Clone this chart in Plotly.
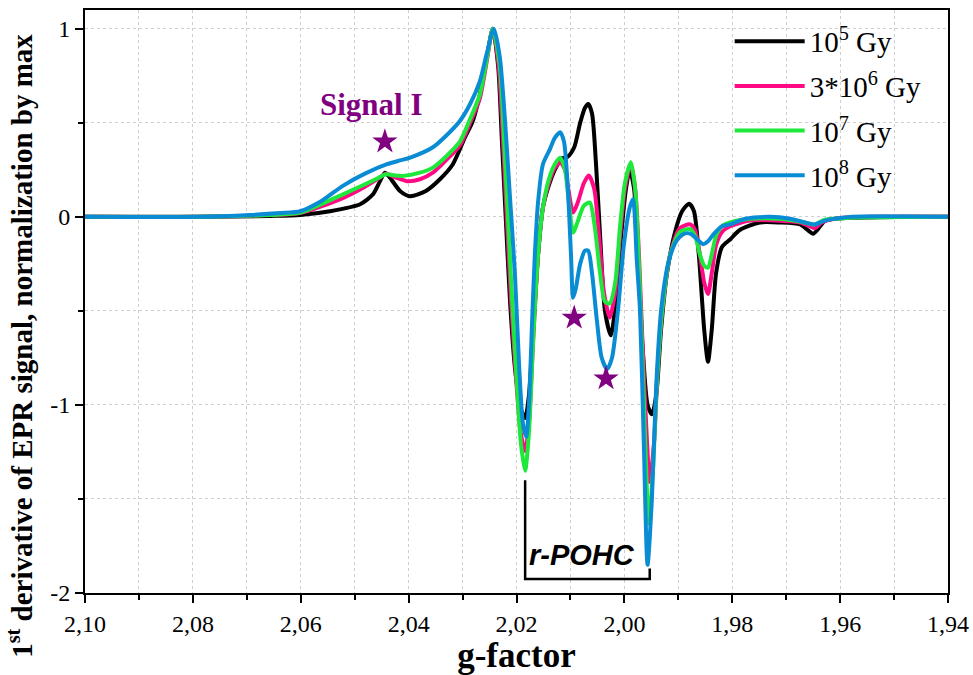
import plotly.graph_objects as go

# ---------------- data ----------------
series_names = ["10<sup>5</sup> Gy", "3*10<sup>6</sup> Gy", "10<sup>7</sup> Gy", "10<sup>8</sup> Gy"]

g_1e5 = [2.1000, 2.0787, 2.0657, 2.0601, 2.0546, 2.0490, 2.0466, 2.0453, 2.0444, 2.0435, 2.0416, 2.0397, 2.0368,
         2.0342, 2.0318, 2.0296, 2.0281, 2.0268, 2.0255, 2.0244, 2.0234, 2.0227, 2.0220, 2.0212, 2.0203, 2.0192,
         2.0184, 2.0177, 2.0169, 2.0160, 2.0151, 2.0142, 2.0129, 2.0116, 2.0105, 2.0093, 2.0082, 2.0073, 2.0067,
         2.0060, 2.0053, 2.0045, 2.0036, 2.0025, 2.0016, 2.0006, 1.9997, 1.9990, 1.9982, 1.9975, 1.9966, 1.9957,
         1.9949, 1.9941, 1.9932, 1.9921, 1.9906, 1.9893, 1.9880, 1.9871, 1.9862, 1.9852, 1.9845, 1.9838, 1.9830,
         1.9819, 1.9804, 1.9786, 1.9749, 1.9712, 1.9674, 1.9660, 1.9650, 1.9641, 1.9628, 1.9582, 1.9489, 1.9400]
y_1e5 = [0, 0, 0.005, 0.01, 0.03, 0.067, 0.12, 0.19, 0.235, 0.21, 0.138, 0.11, 0.138, 0.2, 0.28, 0.42, 0.51, 0.65,
         0.85, 1.0, 0.8, 0.4, 0.0, -0.45, -0.8, -1.02, -1.07, -0.95, -0.6, -0.2, 0.05, 0.15, 0.25, 0.31, 0.32, 0.37,
         0.5, 0.58, 0.60, 0.55, 0.3, -0.1, -0.5, -0.63, -0.45, -0.1, 0.15, 0.25, 0.15, -0.2, -0.7, -1.0, -1.05, -0.95,
         -0.6, -0.3, -0.08, 0.03, 0.07, 0.03, -0.2, -0.6, -0.77, -0.6, -0.3, -0.16, -0.12, -0.07, -0.03, -0.03, -0.04,
         -0.07, -0.09, -0.065, -0.02, -0.005, 0, 0]

g_3e6 = [2.1000, 2.0787, 2.0657, 2.0601, 2.0522, 2.0481, 2.0453, 2.0442, 2.0425, 2.0403, 2.0379, 2.0355, 2.0331,
         2.0305, 2.0286, 2.0268, 2.0255, 2.0244, 2.0233, 2.0225, 2.0218, 2.0210, 2.0201, 2.0192, 2.0184, 2.0177,
         2.0169, 2.0160, 2.0151, 2.0140, 2.0129, 2.0119, 2.0110, 2.0103, 2.0095, 2.0086, 2.0075, 2.0066, 2.0056,
         2.0047, 2.0038, 2.0027, 2.0017, 2.0008, 1.9999, 1.9988, 1.9980, 1.9973, 1.9966, 1.9958, 1.9953, 1.9945,
         1.9938, 1.9928, 1.9915, 1.9897, 1.9878, 1.9869, 1.9860, 1.9852, 1.9845, 1.9838, 1.9830, 1.9819, 1.9804,
         1.9767, 1.9712, 1.9674, 1.9656, 1.9647, 1.9634, 1.9610, 1.9545, 1.9400]
y_3e6 = [0, 0, 0.01, 0.02, 0.10, 0.16, 0.21, 0.23, 0.21, 0.19, 0.2, 0.235, 0.3, 0.38, 0.5, 0.63, 0.83, 1.0, 0.8, 0.4,
         0.0, -0.45, -0.85, -1.15, -1.245, -1.1, -0.65, -0.2, 0.05, 0.18, 0.26, 0.29, 0.25, 0.13, 0.023, 0.08, 0.18,
         0.22, 0.15, -0.1, -0.4, -0.535, -0.4, -0.1, 0.15, 0.28, 0.15, -0.2, -0.7, -1.2, -1.41, -1.2, -0.8, -0.45,
         -0.2, -0.06, -0.04, -0.07, -0.2, -0.35, -0.41, -0.3, -0.15, -0.08, -0.05, -0.02, -0.02, -0.03, -0.05, -0.06,
         -0.03, -0.01, 0, 0]

g_1e7 = [2.1000, 2.0787, 2.0657, 2.0601, 2.0522, 2.0461, 2.0442, 2.0425, 2.0410, 2.0379, 2.0355, 2.0331, 2.0305,
         2.0286, 2.0268, 2.0255, 2.0244, 2.0231, 2.0223, 2.0216, 2.0208, 2.0199, 2.0192, 2.0184, 2.0177, 2.0169,
         2.0160, 2.0151, 2.0140, 2.0129, 2.0119, 2.0110, 2.0103, 2.0095, 2.0086, 2.0075, 2.0064, 2.0055, 2.0045,
         2.0036, 2.0027, 2.0017, 2.0008, 1.9999, 1.9988, 1.9980, 1.9973, 1.9966, 1.9960, 1.9955, 1.9947, 1.9940,
         1.9930, 1.9915, 1.9897, 1.9878, 1.9869, 1.9860, 1.9852, 1.9845, 1.9838, 1.9830, 1.9819, 1.9804, 1.9767,
         1.9712, 1.9674, 1.9647, 1.9628, 1.9582, 1.9400]
y_1e7 = [0, 0, 0.01, 0.023, 0.12, 0.2, 0.227, 0.22, 0.218, 0.235, 0.262, 0.32, 0.40, 0.52, 0.65, 0.84, 1.0, 0.8, 0.4,
         0.0, -0.45, -0.9, -1.2, -1.35, -1.15, -0.65, -0.2, 0.05, 0.2, 0.28, 0.315, 0.25, 0.08, -0.083, -0.02, 0.06,
         0.076, -0.05, -0.3, -0.45, -0.46, -0.35, -0.05, 0.18, 0.29, 0.15, -0.25, -0.8, -1.3, -1.63, -1.35, -0.9,
         -0.5, -0.2, -0.08, -0.065, -0.1, -0.2, -0.26, -0.27, -0.2, -0.1, -0.05, -0.03, -0.01, -0.01, -0.025, -0.04,
         -0.015, -0.005, 0]

g_1e8 = [2.1000, 2.0787, 2.0694, 2.0638, 2.0601, 2.0564, 2.0522, 2.0481, 2.0440, 2.0416, 2.0397, 2.0355, 2.0331,
         2.0305, 2.0286, 2.0268, 2.0255, 2.0242, 2.0231, 2.0221, 2.0212, 2.0203, 2.0195, 2.0188, 2.0182, 2.0177,
         2.0171, 2.0166, 2.0160, 2.0151, 2.0138, 2.0129, 2.0119, 2.0112, 2.0105, 2.0099, 2.0095, 2.0090, 2.0082,
         2.0073, 2.0067, 2.0060, 2.0051, 2.0042, 2.0032, 2.0023, 2.0012, 2.0001, 1.9990, 1.9984, 1.9977, 1.9971,
         1.9964, 1.9957, 1.9949, 1.9941, 1.9932, 1.9919, 1.9904, 1.9890, 1.9877, 1.9865, 1.9854, 1.9845, 1.9834,
         1.9819, 1.9804, 1.9776, 1.9730, 1.9693, 1.9665, 1.9647, 1.9628, 1.9582, 1.9400]
y_1e8 = [0, 0, 0.01, 0.02, 0.03, 0.08, 0.165, 0.23, 0.28, 0.3, 0.315, 0.37, 0.43, 0.51, 0.6, 0.72, 0.87, 1.0, 0.85,
         0.5, 0.1, -0.3, -0.8, -1.1, -1.17, -1.0, -0.55, -0.2, 0.08, 0.28, 0.36, 0.42, 0.45, 0.4, 0.16, -0.2, -0.43,
         -0.38, -0.25, -0.18, -0.18, -0.3, -0.55, -0.75, -0.81, -0.75, -0.5, -0.15, 0.05, 0.094, -0.23, -0.5, -1.2,
         -1.85, -1.5, -0.9, -0.5, -0.25, -0.13, -0.09, -0.09, -0.12, -0.145, -0.13, -0.09, -0.05, -0.04, -0.01, 0.0,
         -0.01, -0.03, -0.04, -0.02, 0, 0]

star_g = [2.0444, 2.0093, 2.0034]
star_y = [0.40, -0.537, -0.86]

x_tickvals = [2.10, 2.08, 2.06, 2.04, 2.02, 2.00, 1.98, 1.96, 1.94]
x_ticktext = ["2,10", "2,08", "2,06", "2,04", "2,02", "2,00", "1,98", "1,96", "1,94"]
y_tickvals = [-2, -1, 0, 1]
y_ticktext = ["-2", "-1", "0", "1"]

# bracket marking r-POHC (g-factor, value)
bracket_g = [2.0184, 2.0184, 1.9953, 1.9953]
bracket_y = [-1.40, -1.925, -1.925, -1.87]

# ---------------- figure ----------------
colors = ["#000000", "#FF0A84", "#1EE83C", "#0A8CD4"]
xs = [g_1e5, g_3e6, g_1e7, g_1e8]
ys = [y_1e5, y_3e6, y_1e7, y_1e8]
for a, b in zip(xs, ys):
    assert len(a) == len(b), (len(a), len(b))

serif = "Liberation Serif, Times New Roman, serif"
sans = "Liberation Sans, Arial, sans-serif"
purple = "#800080"

fig = go.Figure()
for i, (name, xv, yv, c) in enumerate(zip(series_names, xs, ys, colors)):
    fig.add_trace(go.Scatter(
        x=xv, y=yv, mode="lines", name=name,
        line=dict(color=c, width=4, shape="spline", smoothing=0.7),
        legendgroup=f"g{i}",
    ))

fig.add_trace(go.Scatter(
    x=bracket_g, y=bracket_y, mode="lines", showlegend=False,
    line=dict(color="black", width=2.5),
))

fig.add_trace(go.Scatter(
    x=star_g, y=star_y, mode="markers", showlegend=False,
    marker=dict(symbol="star", size=19, color=purple, line=dict(width=0)),
))

fig.add_annotation(x=2.0468, y=0.596, text="<b>Signal I</b>", showarrow=False,
                   font=dict(family=serif, size=31, color=purple))
fig.add_annotation(x=2.0079, y=-1.80, text="<b><i>r-POHC</i></b>", showarrow=False,
                   font=dict(family=sans, size=29, color="black"))
# y-axis title (placed as annotation so it can sit where the reference puts it)
fig.add_annotation(xref="paper", yref="paper", x=-0.0753, y=0.424, textangle=-90,
                   xanchor="center", yanchor="middle",
                   text="<b>1<sup>st</sup> derivative of EPR signal, normalization by max</b>",
                   showarrow=False, font=dict(family=serif, size=29, color="black"))

axis_common = dict(
    showline=True, linecolor="black", linewidth=2, mirror=True,
    ticks="outside", tickcolor="black", tickwidth=2, ticklen=8,
    showgrid=True, gridcolor="#cfcfcf", griddash="dot", gridwidth=1,
    zeroline=False, automargin=False,
    tickfont=dict(family=serif, size=24, color="black"),
)

fig.update_xaxes(
    range=[2.10, 1.94], tickvals=x_tickvals, ticktext=x_ticktext,
    minor=dict(dtick=0.01, tick0=2.0, ticks="outside", ticklen=5, tickwidth=2, tickcolor="black",
               showgrid=True, gridcolor="#cfcfcf", griddash="dot", gridwidth=1),
    title=dict(text="<b>g-factor</b>", font=dict(family=serif, size=35, color="black"), standoff=2),
    **axis_common,
)
fig.update_yaxes(
    range=[-2.0, 1.1], tickvals=y_tickvals, ticktext=y_ticktext,
    minor=dict(dtick=0.5, tick0=0, ticks="outside", ticklen=5, tickwidth=2, tickcolor="black",
               showgrid=True, gridcolor="#cfcfcf", griddash="dot", gridwidth=1),
    **axis_common,
)

fig.update_layout(
    width=973, height=675,
    margin=dict(l=85, r=25, t=10, b=82),
    paper_bgcolor="white", plot_bgcolor="white",
    showlegend=True,
    legend=dict(
        x=0.747, y=0.99, xanchor="left", yanchor="top",
        font=dict(family=serif, size=29, color="black"),
        bgcolor="rgba(0,0,0,0)", tracegroupgap=4, itemwidth=70,
    ),
)

fig.write_html("out.html", config={"displayModeBar": False},
               post_script="document.body.style.margin='0px';document.body.style.overflow='hidden';")
